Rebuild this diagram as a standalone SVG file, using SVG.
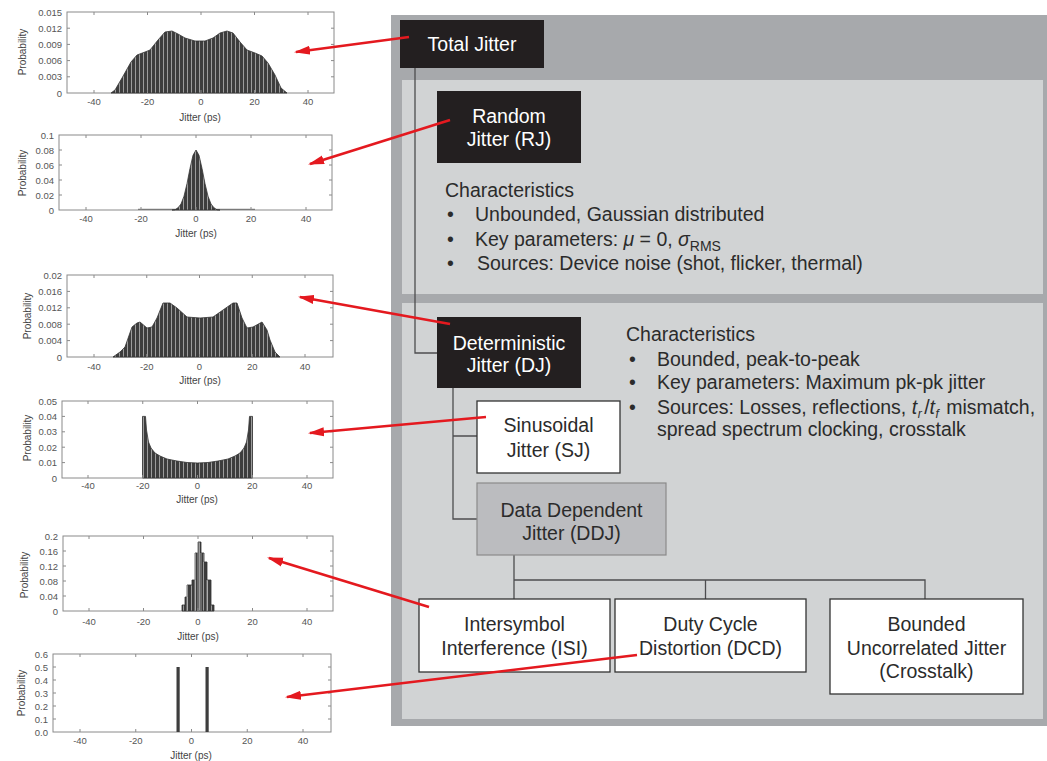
<svg xmlns="http://www.w3.org/2000/svg" width="1047" height="761" viewBox="0 0 1047 761">
<style>
.tick{fill:#555;font-family:"Liberation Sans",Arial,sans-serif;font-size:9.5px}
.yt{text-anchor:end}
.xt{text-anchor:middle}
.axl{fill:#444;font-family:"Liberation Sans",Arial,sans-serif;font-size:10px;text-anchor:middle}
.box{fill:#fff;stroke:#8a8a8a;stroke-width:1}
.tk{stroke:#8a8a8a;stroke-width:1;fill:none}
.hist{fill:url(#hist);stroke:#333;stroke-width:0.8}
.bn{fill:#231f20}
.wt{fill:#fff;font-family:"Liberation Sans",Arial,sans-serif;font-size:19.5px;text-anchor:middle}
.dt{fill:#2b2b2b;font-family:"Liberation Sans",Arial,sans-serif;font-size:19.5px;text-anchor:middle}
.ct{fill:#2b2b2b;font-family:"Liberation Sans",Arial,sans-serif;font-size:19.5px}
.wb{fill:#fff;stroke:#333;stroke-width:1.3}
.conn{stroke:#4d4d4f;stroke-width:1.3;fill:none}
.arr{stroke:#e4191f;stroke-width:2.6;fill:none;marker-end:url(#ah)}
</style>
<defs>
<pattern id="hist" width="4" height="4" patternUnits="userSpaceOnUse"><rect width="4" height="4" fill="#3d3d3d"/><rect x="3" width="1" height="4" fill="#9c9c9c"/></pattern>
<marker id="ah" markerUnits="userSpaceOnUse" markerWidth="16" markerHeight="10" refX="14" refY="5" orient="auto"><path d="M0,0.5 L16,5 L0,9.5 Z" fill="#e4191f"/></marker>
</defs>
<rect width="1047" height="761" fill="#fff"/>

<!-- Plot 1 -->
<g id="plot-total">
<rect class="box" x="67" y="12" width="267" height="81"/>
<path class="hist" d="M111,93 L115,90 L122,78 L131,62 L137,55 L145,52 L150,50 L158,40 L165,32 L172,31 L178,34 L185,38 L195,41 L205,41 L213,38 L220,33 L227,31 L233,33 L240,42 L247,50 L255,53 L262,56 L268,63 L275,75 L281,88 L287,93 Z"/>
<path class="tk" d="M94 93v-3M147.5 93v-3M201 93v-3M254.5 93v-3M308 93v-3M94 12v3M147.5 12v3M201 12v3M254.5 12v3M308 12v3M67 28.2h3M67 44.4h3M67 60.6h3M67 76.8h3M334 28.2h-3M334 44.4h-3M334 60.6h-3M334 76.8h-3"/>
<text class="tick yt" x="62" y="15.5">0.015</text><text class="tick yt" x="62" y="31.7">0.012</text><text class="tick yt" x="62" y="47.9">0.009</text><text class="tick yt" x="62" y="64.1">0.006</text><text class="tick yt" x="62" y="80.3">0.003</text><text class="tick yt" x="62" y="96.5">0</text>
<text class="tick xt" x="94" y="105">-40</text><text class="tick xt" x="147.5" y="105">-20</text><text class="tick xt" x="201" y="105">0</text><text class="tick xt" x="254.5" y="105">20</text><text class="tick xt" x="308" y="105">40</text>
<text class="axl" x="200" y="121">Jitter (ps)</text>
<text class="axl" transform="translate(26,52) rotate(-90)">Probability</text>
</g>

<!-- Plot 2 -->
<g id="plot-rj">
<rect class="box" x="59" y="135" width="273" height="75"/>
<line x1="138" y1="209.3" x2="255" y2="209.3" stroke="#666" stroke-width="1"/>
<path class="hist" d="M172,210 L175,209.8 L178,207.8 L181,204 L184,196.2 L187,183.7 L190,168.4 L193,155.3 L196,150 L199,155.3 L202,168.4 L205,183.7 L208,196.2 L211,204 L214,207.8 L217,209.8 L220,210 Z"/>
<path class="tk" d="M86 210v-3M141 210v-3M196 210v-3M251 210v-3M306 210v-3M86 135v3M141 135v3M196 135v3M251 135v3M306 135v3M59 150h3M59 165h3M59 180h3M59 195h3M332 150h-3M332 165h-3M332 180h-3M332 195h-3"/>
<text class="tick yt" x="54" y="138.5">0.1</text><text class="tick yt" x="54" y="153.5">0.08</text><text class="tick yt" x="54" y="168.5">0.06</text><text class="tick yt" x="54" y="183.5">0.04</text><text class="tick yt" x="54" y="198.5">0.02</text><text class="tick yt" x="54" y="213.5">0</text>
<text class="tick xt" x="86" y="222">-40</text><text class="tick xt" x="141" y="222">-20</text><text class="tick xt" x="196" y="222">0</text><text class="tick xt" x="251" y="222">20</text><text class="tick xt" x="306" y="222">40</text>
<text class="axl" x="196" y="237">Jitter (ps)</text>
<text class="axl" transform="translate(26,173) rotate(-90)">Probability</text>
</g>

<!-- Plot 3 -->
<g id="plot-dj">
<rect class="box" x="67" y="275" width="266" height="82"/>
<path class="hist" d="M113,357 L120,352 L125,347 L132,327 L137,323 L140,322 L147,328 L152,327 L157,318 L163,303 L170,303 L177,308 L187,317 L200,318 L213,317 L223,310 L233,303 L237,303 L242,318 L247,328 L253,327 L262,322 L267,330 L270,340 L275,352 L280,357 Z"/>
<path class="tk" d="M94 357v-3M146.75 357v-3M199.5 357v-3M252.25 357v-3M305 357v-3M94 275v3M146.75 275v3M199.5 275v3M252.25 275v3M305 275v3M67 291.4h3M67 307.8h3M67 324.2h3M67 340.6h3M333 291.4h-3M333 307.8h-3M333 324.2h-3M333 340.6h-3"/>
<text class="tick yt" x="62" y="278.5">0.02</text><text class="tick yt" x="62" y="294.9">0.016</text><text class="tick yt" x="62" y="311.3">0.012</text><text class="tick yt" x="62" y="327.7">0.008</text><text class="tick yt" x="62" y="344.1">0.004</text><text class="tick yt" x="62" y="360.5">0</text>
<text class="tick xt" x="94" y="370">-40</text><text class="tick xt" x="146.75" y="370">-20</text><text class="tick xt" x="199.5" y="370">0</text><text class="tick xt" x="252.25" y="370">20</text><text class="tick xt" x="305" y="370">40</text>
<text class="axl" x="200" y="384">Jitter (ps)</text>
<text class="axl" transform="translate(31,316) rotate(-90)">Probability</text>
</g>

<!-- Plot 4 -->
<g id="plot-sj">
<rect class="box" x="62" y="401" width="271" height="77"/>
<path class="hist" d="M142.5,478 V416.4 H145.5 L146.5,430 L148.5,442 L151,448 L155,453 L160,456 L167,459 L177,461 L187,462.5 L197.5,463 L208,462.5 L218,461 L228,459 L235,456 L240,453 L244,448 L246.5,442 L248.5,430 L249.5,416.4 H252.5 V478 Z"/>
<path class="tk" d="M88 478v-3M142.75 478v-3M197.5 478v-3M252.25 478v-3M307 478v-3M88 401v3M142.75 401v3M197.5 401v3M252.25 401v3M307 401v3M62 416.4h3M62 431.8h3M62 447.2h3M62 462.6h3M333 416.4h-3M333 431.8h-3M333 447.2h-3M333 462.6h-3"/>
<text class="tick yt" x="57" y="404.5">0.05</text><text class="tick yt" x="57" y="419.9">0.04</text><text class="tick yt" x="57" y="435.3">0.03</text><text class="tick yt" x="57" y="450.7">0.02</text><text class="tick yt" x="57" y="466.1">0.01</text><text class="tick yt" x="57" y="481.5">0</text>
<text class="tick xt" x="88" y="489">-40</text><text class="tick xt" x="142.75" y="489">-20</text><text class="tick xt" x="197.5" y="489">0</text><text class="tick xt" x="252.25" y="489">20</text><text class="tick xt" x="307" y="489">40</text>
<text class="axl" x="197" y="503">Jitter (ps)</text>
<text class="axl" transform="translate(31,438) rotate(-90)">Probability</text>
</g>

<!-- Plot 5 -->
<g id="plot-isi">
<rect class="box" x="63" y="536" width="270" height="75"/>
<path class="hist" d="M182,611 V605 H185 V597 H187 V585 H192 V580 H195 V553 H198 V542 H201 V553 H204 V562 H207 V580 H211 V605 H214 V611 Z"/>
<path d="M187,611V585M195,611V553M198,611V542M201,611V553M207,611V580" stroke="#d8d8d8" stroke-width="0.6" fill="none"/>
<path class="tk" d="M89 611v-3M143.5 611v-3M198 611v-3M252.5 611v-3M307 611v-3M89 536v3M143.5 536v3M198 536v3M252.5 536v3M307 536v3M63 551h3M63 566h3M63 581h3M63 596h3M333 551h-3M333 566h-3M333 581h-3M333 596h-3"/>
<text class="tick yt" x="58" y="539.5">0.2</text><text class="tick yt" x="58" y="554.5">0.16</text><text class="tick yt" x="58" y="569.5">0.12</text><text class="tick yt" x="58" y="584.5">0.08</text><text class="tick yt" x="58" y="599.5">0.04</text><text class="tick yt" x="58" y="614.5">0</text>
<text class="tick xt" x="89" y="625">-40</text><text class="tick xt" x="143.5" y="625">-20</text><text class="tick xt" x="198" y="625">0</text><text class="tick xt" x="252.5" y="625">20</text><text class="tick xt" x="307" y="625">40</text>
<text class="axl" x="198" y="640">Jitter (ps)</text>
<text class="axl" transform="translate(28,575) rotate(-90)">Probability</text>
</g>

<!-- Plot 6 -->
<g id="plot-dcd">
<rect class="box" x="53" y="654" width="278" height="78"/>
<rect x="176.5" y="667" width="3.2" height="65" fill="#3d3d3d"/>
<rect x="205.5" y="667" width="3.2" height="65" fill="#3d3d3d"/>
<path class="tk" d="M80 732v-3M135.75 732v-3M191.5 732v-3M247.25 732v-3M303 732v-3M80 654v3M135.75 654v3M191.5 654v3M247.25 654v3M303 654v3M53 667h3M53 680h3M53 693h3M53 706h3M53 719h3M331 667h-3M331 680h-3M331 693h-3M331 706h-3M331 719h-3"/>
<text class="tick yt" x="48" y="657.5">0.6</text><text class="tick yt" x="48" y="670.5">0.5</text><text class="tick yt" x="48" y="683.5">0.4</text><text class="tick yt" x="48" y="696.5">0.3</text><text class="tick yt" x="48" y="709.5">0.2</text><text class="tick yt" x="48" y="722.5">0.1</text><text class="tick yt" x="48" y="735.5">0.0</text>
<text class="tick xt" x="80" y="744">-40</text><text class="tick xt" x="135.75" y="744">-20</text><text class="tick xt" x="191.5" y="744">0</text><text class="tick xt" x="247.25" y="744">20</text><text class="tick xt" x="303" y="744">40</text>
<text class="axl" x="191" y="759">Jitter (ps)</text>
<text class="axl" transform="translate(25,693) rotate(-90)">Probability</text>
</g>

<!-- Panels -->
<g id="panels">
<rect x="391" y="15" width="656" height="711" fill="#a7a9ac"/>
<rect x="402" y="80" width="641" height="214" fill="#d1d3d4"/>
<rect x="402" y="303" width="641" height="416" fill="#d1d3d4"/>
</g>

<g id="connectors">
<path class="conn" d="M415,68 V353 H437"/>
<path class="conn" d="M453,388 V519 H477 M453,436 H477"/>
<path class="conn" d="M514,555 V599 M514,580 H925 V599 M705.5,580 V599"/>
</g>

<g id="node-total">
<rect class="bn" x="400" y="20" width="144" height="48"/>
<text class="wt" x="472" y="51">Total Jitter</text>
</g>
<g id="node-rj">
<rect class="bn" x="437" y="91" width="144" height="72"/>
<text class="wt" x="509" y="123">Random</text>
<text class="wt" x="509" y="146">Jitter (RJ)</text>
</g>
<g id="rj-characteristics">
<text class="ct" x="445" y="197">Characteristics</text>
<text class="ct" x="447" y="221">•</text>
<text class="ct" x="475" y="221">Unbounded, Gaussian distributed</text>
<text class="ct" x="447" y="246">•</text>
<text class="ct" x="475" y="246">Key parameters: <tspan font-style="italic">μ</tspan> = 0, <tspan font-style="italic">σ</tspan><tspan font-size="14" dy="5">RMS</tspan></text>
<text class="ct" x="447" y="270">•</text>
<text class="ct" x="477" y="270">Sources: Device noise (shot, flicker, thermal)</text>
</g>
<g id="node-dj">
<rect class="bn" x="437" y="317" width="144" height="71"/>
<text class="wt" x="509" y="350">Deterministic</text>
<text class="wt" x="509" y="372">Jitter (DJ)</text>
</g>
<g id="dj-characteristics">
<text class="ct" x="626" y="341">Characteristics</text>
<text class="ct" x="629" y="366">•</text>
<text class="ct" x="657" y="366">Bounded, peak-to-peak</text>
<text class="ct" x="629" y="389">•</text>
<text class="ct" x="657" y="389">Key parameters: Maximum pk-pk jitter</text>
<text class="ct" x="629" y="414">•</text>
<text class="ct" x="657" y="414">Sources: Losses, reflections, <tspan font-style="italic">t</tspan><tspan font-size="12" dx="0.5" dy="4" font-style="italic">r</tspan><tspan dx="2.5" dy="-4">/</tspan><tspan font-style="italic">t</tspan><tspan font-size="12" dx="0.5" dy="4" font-style="italic">f</tspan><tspan dx="2" dy="-4"> mismatch,</tspan></text>
<text class="ct" x="657" y="436">spread spectrum clocking, crosstalk</text>
</g>
<g id="node-sj">
<rect class="wb" x="477" y="401" width="143" height="72"/>
<text class="dt" x="548.5" y="432">Sinusoidal</text>
<text class="dt" x="548.5" y="457">Jitter (SJ)</text>
</g>
<g id="node-ddj">
<rect x="477" y="483" width="189" height="72" fill="#bbbcbf" stroke="#8a8a8a" stroke-width="1.2"/>
<text class="dt" x="571.5" y="517">Data Dependent</text>
<text class="dt" x="571.5" y="540">Jitter (DDJ)</text>
</g>
<g id="node-isi">
<rect class="wb" x="419" y="599" width="191" height="73"/>
<text class="dt" x="514.5" y="631">Intersymbol</text>
<text class="dt" x="514.5" y="655">Interference (ISI)</text>
</g>
<g id="node-dcd">
<rect class="wb" x="615" y="599" width="191" height="73"/>
<text class="dt" x="710.5" y="631">Duty Cycle</text>
<text class="dt" x="710.5" y="655">Distortion (DCD)</text>
</g>
<g id="node-buj">
<rect class="wb" x="830" y="599" width="193" height="95"/>
<text class="dt" x="926.5" y="631">Bounded</text>
<text class="dt" x="926.5" y="655">Uncorrelated Jitter</text>
<text class="dt" x="926.5" y="678">(Crosstalk)</text>
</g>

<g id="arrows">
<path class="arr" d="M409,37 L296,52"/>
<path class="arr" d="M450,120 L310,164"/>
<path class="arr" d="M450,324 L300,297"/>
<path class="arr" d="M486,417 L310,433"/>
<path class="arr" d="M429,607 L269,558"/>
<path class="arr" d="M637,655 L287,697"/>
</g>
</svg>
